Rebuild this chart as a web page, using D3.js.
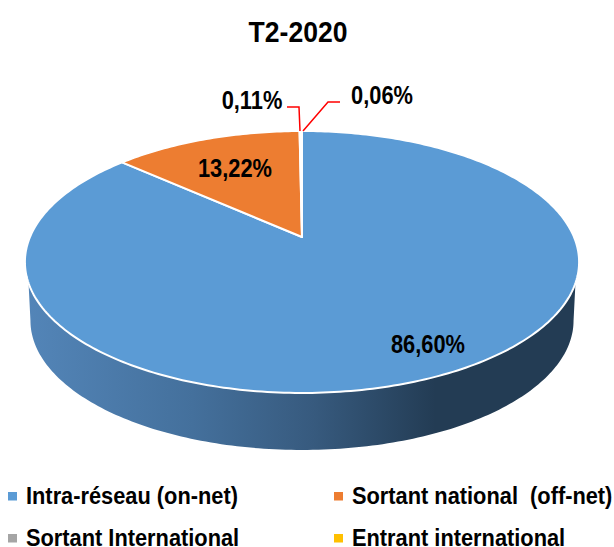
<!DOCTYPE html>
<html>
<head>
<meta charset="utf-8">
<script src="https://cdn.jsdelivr.net/npm/d3@7/dist/d3.min.js"></script>
<style>
  html, body { margin: 0; padding: 0; background: #fff; }
  svg { display: block; }
  text { font-family: "Liberation Sans", Arial, sans-serif; font-weight: 700; fill: #000; white-space: pre; }
</style>
</head>
<body>
<script>
// data
const categories = ['Intra-réseau (on-net)', 'Sortant national  (off-net)', 'Sortant International', 'Entrant international'];
const shares = [86.60, 13.22, 0.11, 0.06];
const shareLabels = ['86,60%', '13,22%', '0,11%', '0,06%'];
const colors = ['#5b9bd5', '#ed7d31', '#a5a5a5', '#ffc000'];

const width = 614, height = 547;

const svg = d3.select('body').append('svg')
  .attr('width', width)
  .attr('height', height);

// the tilted disc: a unit circle pushed through a perspective projection
const cx = 302, apexY = 237;
const tilt = -0.1908;
const spreadX = 272, spreadY = 81;

function project(angle, depth = 0, shrink = 1) {
  const u = Math.sin(angle), v = -Math.cos(angle);
  const w = 1 + tilt * v;
  return [cx + shrink * spreadX * u / w, (apexY + shrink * spreadY * v) / w + depth];
}

const pie = d3.pie().sort(null).value(d => d);
const slices = pie(shares);
const line = d3.line();

function arcPoints(a0, a1, depth, shrink) {
  const n = Math.max(2, Math.ceil((a1 - a0) * 60));
  return d3.range(n + 1).map(i => project(a0 + (a1 - a0) * i / n, depth, shrink));
}

// side wall with its horizontal shading
const grad = svg.append('defs').append('linearGradient')
  .attr('id', 'wall')
  .attr('gradientUnits', 'userSpaceOnUse')
  .attr('x1', 27).attr('x2', 579).attr('y1', 0).attr('y2', 0);
[[0, '#5385b8'], [0.3, '#44709c'], [0.52, '#375a7e'], [0.74, '#233c54'], [1, '#233c54']].forEach(s => {
  grad.append('stop').attr('offset', s[0]).attr('stop-color', s[1]);
});

// wall runs along the front of the disc, from right side to left side
const topEdge = arcPoints(Math.PI * 0.611, Math.PI * 1.389, 0, 1);
const lowEdge = arcPoints(Math.PI * 0.561, Math.PI * 1.439, 59, 0.98).reverse();
svg.append('path')
  .attr('d', line(topEdge.concat(lowEdge)) + 'Z')
  .attr('fill', 'url(#wall)');

// disc slices
svg.append('g').selectAll('path')
  .data(slices)
  .join('path')
  .attr('d', d => line([[cx, apexY]].concat(arcPoints(d.startAngle, d.endAngle, 0, 1))) + 'Z')
  .attr('fill', (d, i) => colors[i])
  .attr('stroke', '#fff')
  .attr('stroke-width', 2)
  .attr('stroke-linejoin', 'round');

// title
svg.append('text')
  .attr('transform', 'translate(298,42) scale(0.885,1)')
  .attr('text-anchor', 'middle')
  .style('font-size', '30px')
  .text('T2-2020');

// leader lines for the two tiny slices
svg.append('path')
  .attr('d', line([[300, 131], [299, 107], [287, 107]]))
  .attr('fill', 'none').attr('stroke', '#ff0000').attr('stroke-width', 1.5);
svg.append('path')
  .attr('d', line([[303, 131], [328, 102], [340, 102]]))
  .attr('fill', 'none').attr('stroke', '#ff0000').attr('stroke-width', 1.5);

// value labels, squeezed like the narrow face in the picture
const labelAt = [[428, 353], [235, 177], [252, 109], [382, 104]];
svg.append('g').selectAll('text')
  .data(shareLabels)
  .join('text')
  .attr('transform', (d, i) => `translate(${labelAt[i][0]},${labelAt[i][1]}) scale(0.84,1)`)
  .attr('text-anchor', 'middle')
  .style('font-size', '26px')
  .text(d => d);

// legend, two columns
const legendX = d3.scaleOrdinal().domain([0, 1]).range([8, 334]);
const legendY = d3.scaleOrdinal().domain([0, 1]).range([492, 534]);
const legend = svg.append('g').selectAll('g')
  .data(categories)
  .join('g')
  .attr('transform', (d, i) => `translate(${legendX(i % 2)},${legendY(Math.floor(i / 2))})`);
legend.append('rect')
  .attr('width', 9).attr('height', 8.5)
  .attr('fill', (d, i) => colors[i]);
legend.append('text')
  .attr('transform', 'translate(18,12) scale(0.89,1)')
  .style('font-size', '24.5px')
  .text(d => d);
</script>
</body>
</html>
